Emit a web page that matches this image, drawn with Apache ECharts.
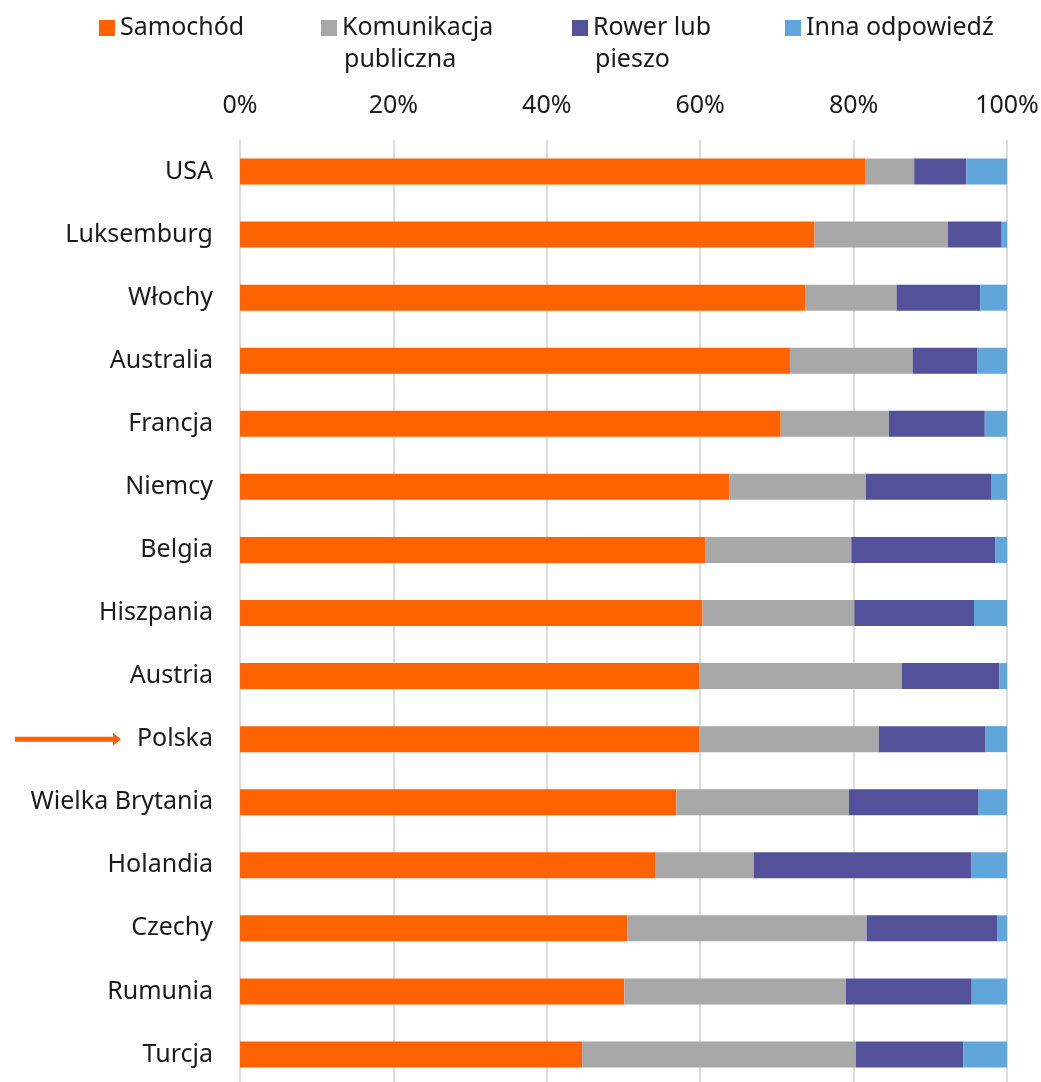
<!DOCTYPE html>
<html>
<head>
<meta charset="utf-8">
<script src="https://cdn.jsdelivr.net/npm/echarts@6/dist/echarts.min.js"></script>
<style>
html,body{margin:0;padding:0;background:#fff;}
#chart{width:1041px;height:1082px;}
</style>
</head>
<body>
<div id="chart"></div>
<script>
const categories = ['USA','Luksemburg','Włochy','Australia','Francja','Niemcy','Belgia','Hiszpania','Austria','Polska','Wielka Brytania','Holandia','Czechy','Rumunia','Turcja'];
const samochod   = [81.5, 74.9, 73.7, 71.7, 70.5, 63.8, 60.7, 60.3, 59.9, 59.9, 56.9, 54.2, 50.5, 50.1, 44.6];
const komunikacja= [ 6.4, 17.4, 11.9, 16.0, 14.1, 17.8, 19.0, 19.8, 26.4, 23.4, 22.5, 12.8, 31.2, 28.9, 35.7];
const rower      = [ 6.8,  7.0, 10.9,  8.4, 12.5, 16.4, 18.8, 15.6, 12.7, 13.9, 16.9, 28.3, 17.0, 16.4, 14.0];
const inna       = [ 5.3,  1.0,  3.5,  3.9,  2.9,  2.0,  1.5,  4.3,  1.0,  2.8,  3.7,  4.7,  1.3,  4.6,  5.7];
const seriesNames = ['Samochód','Komunikacja\npubliczna','Rower lub\npieszo','Inna odpowiedź'];
const colors = ['#FF6200','#A8A8A8','#525199','#60A6DA'];
const tickLabels = ['0%','20%','40%','60%','80%','100%'];
const highlighted = 'Polska';

const FONT = 'Noto Sans';
const FS = 25;
const TXT = '#1a1a1a';
const chart = echarts.init(document.getElementById('chart'));
const dataArr = [samochod, komunikacja, rower, inna];
const legendLefts = [99, 321, 572, 785];

const option = {
  animation: false,
  textStyle: {fontFamily: FONT},
  color: colors,
  legend: seriesNames.map((n, i) => ({
    data: [n],
    left: legendLefts[i],
    top: 11,
    padding: 0,
    itemWidth: 16,
    itemHeight: 16,
    itemGap: 0,
    itemTextGap: 7,
    icon: 'rect',
    align: 'left',
    selectedMode: false,
    formatter: name => name.split('\n')[0],
    textStyle: {fontFamily: FONT, fontSize: FS, color: TXT, lineHeight: 34}
  })),
  grid: {left: 240, right: 34, top: 140, height: 946, containLabel: false, outerBoundsMode: 'none'},
  xAxis: {
    type: 'value',
    position: 'top',
    min: 0, max: 100, interval: 20,
    axisLine: {show: false},
    axisTick: {show: false},
    axisLabel: {
      margin: 22,
      fontFamily: FONT, fontSize: FS, color: TXT,
      formatter: v => tickLabels[Math.round(v/20)]
    },
    splitLine: {show: true, lineStyle: {color: '#dcdcdc', width: 2}}
  },
  yAxis: {
    type: 'category',
    inverse: true,
    data: categories,
    axisLine: {show: false},
    axisTick: {show: false},
    axisLabel: {margin: 27, fontFamily: FONT, fontSize: FS, color: TXT}
  },
  series: seriesNames.map((n, i) => ({
    name: n,
    type: 'bar',
    stack: 'total',
    barWidth: 26,
    data: dataArr[i],
    itemStyle: {color: colors[i]}
  }))
};
chart.setOption(option);

// second lines of the two-line legend entries
const secondLines = [];
seriesNames.forEach((n, i) => {
  const parts = n.split('\n');
  if (parts.length > 1) {
    secondLines.push({
      type: 'text', left: legendLefts[i] + 23, top: 43,
      style: {text: parts[1], font: FS + 'px "' + FONT + '"', fill: TXT, lineHeight: 34, textVerticalAlign: 'top'}
    });
  }
});

const py = chart.convertToPixel({yAxisIndex: 0}, highlighted);
chart.setOption({
  graphic: secondLines.concat([
    {type: 'rect', shape: {x: 15, y: py - 2.5, width: 100, height: 5}, style: {fill: '#FF6200'}},
    {type: 'polygon', shape: {points: [[113, py - 6.5], [121, py], [113, py + 6.5]]}, style: {fill: '#FF6200'}}
  ])
});
</script>
</body>
</html>
